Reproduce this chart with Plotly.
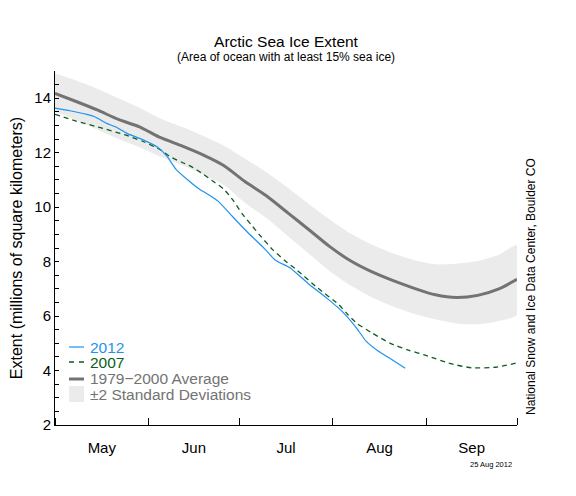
import pandas as pd
import plotly.graph_objects as go

# day offsets are counted from 1 May 2012
start = pd.Timestamp("2012-05-01")

avg_days = [0, 7, 14, 21, 28, 35, 42, 49, 56, 63, 70, 77, 84, 91, 98, 105,
            112, 119, 126, 133, 140, 147, 153]
avg_ext = [14.18, 13.88, 13.57, 13.22, 12.95, 12.55, 12.25, 11.92, 11.52, 10.93,
           10.42, 9.80, 9.18, 8.55, 8.02, 7.62, 7.30, 7.02, 6.78, 6.68, 6.76,
           7.00, 7.35]
sd_upper = [14.92, 14.65, 14.35, 14.00, 13.65, 13.25, 12.95, 12.62, 12.25, 11.78,
            11.28, 10.72, 10.12, 9.55, 9.02, 8.62, 8.30, 8.05, 7.90, 7.92, 8.02,
            8.25, 8.60]
sd_lower = [13.50, 13.20, 12.85, 12.50, 12.20, 11.85, 11.55, 11.20, 10.80, 10.15,
            9.60, 8.95, 8.30, 7.65, 7.12, 6.68, 6.35, 6.08, 5.88, 5.72, 5.70,
            5.82, 6.05]

days_2012 = [0, 5, 10, 13, 17, 20, 24, 29, 34, 37, 40, 44, 48, 51, 54, 59, 64,
             69, 73, 78, 84, 90, 95, 100, 103, 107, 112, 116]
ext_2012 = [13.64, 13.54, 13.42, 13.33, 13.08, 12.95, 12.70, 12.48, 12.20, 11.88,
            11.40, 11.00, 10.65, 10.45, 10.22, 9.63, 9.05, 8.52, 8.05, 7.76, 7.18,
            6.66, 6.18, 5.54, 5.08, 4.72, 4.37, 4.08]

days_2007 = [0, 7, 15, 23, 29, 35, 38, 42, 45, 49, 52, 56, 59, 62, 65, 68, 72,
             76, 80, 87, 94, 97, 100, 105, 111, 117, 123, 131, 138, 146, 153]
ext_2007 = [13.41, 13.16, 12.92, 12.66, 12.42, 12.10, 11.86, 11.65, 11.50, 11.22,
            10.98, 10.65, 10.25, 9.75, 9.35, 8.95, 8.45, 8.05, 7.70, 7.03, 6.42,
            6.05, 5.73, 5.38, 5.00, 4.75, 4.55, 4.25, 4.10, 4.12, 4.28]

legend_labels = ["2012", "2007", "1979\u22122000 Average", "\u00b12 Standard Deviations"]

BLUE = "#1e93ee"
GREEN = "#0d5c22"
GRAY = "#737373"
BAND = "#ebebeb"
FONT = "Liberation Sans, Arial, Helvetica, sans-serif"

# the page puts the figure 8px in from the top-left corner
W, H = 568, 488


def to_dates(days):
    return start + pd.to_timedelta(days, unit="D")


# plot area in page pixels: x 55..517, y 71..425
def px(x):
    return (x - 55) / 462


def py(y):
    return (425 - y) / 354


band_x = list(to_dates(avg_days)) + list(to_dates(avg_days))[::-1]
band_y = sd_upper + sd_lower[::-1]

fig = go.Figure()
fig.add_trace(go.Scatter(x=band_x, y=band_y, fill="toself", fillcolor=BAND,
                         line=dict(width=0, shape="spline", smoothing=0.6),
                         mode="lines", hoverinfo="skip"))
fig.add_trace(go.Scatter(x=to_dates(avg_days), y=avg_ext, mode="lines",
                         line=dict(color=GRAY, width=3, shape="spline", smoothing=0.6)))
fig.add_trace(go.Scatter(x=to_dates(days_2007), y=ext_2007, mode="lines",
                         line=dict(color=GREEN, width=1.3, dash="5px,4px",
                                   shape="spline", smoothing=0.5)))
fig.add_trace(go.Scatter(x=to_dates(days_2012), y=ext_2012, mode="lines",
                         line=dict(color=BLUE, width=1.2, shape="spline", smoothing=0.5)))

# hand-made legend, the entries sit tighter than plotly's own legend allows
shapes = [
    dict(type="line", x0=px(69), x1=px(84), y0=py(347), y1=py(347),
         line=dict(color=BLUE, width=1.2)),
    dict(type="line", x0=px(69), x1=px(84), y0=py(362), y1=py(362),
         line=dict(color=GREEN, width=1.3, dash="5px,5px")),
    dict(type="line", x0=px(69), x1=px(84), y0=py(379), y1=py(379),
         line=dict(color=GRAY, width=3)),
    dict(type="rect", x0=px(69), x1=px(84), y0=py(402), y1=py(386),
         fillcolor=BAND, line=dict(width=0)),
]
for s in shapes:
    s.update(xref="paper", yref="paper")

annotations = []
for label, color, y in zip(legend_labels, [BLUE, GREEN, GRAY, GRAY], [347, 362.5, 378.5, 394]):
    annotations.append(dict(text=label, x=px(89), y=py(y), xref="paper", yref="paper",
                            xanchor="left", yanchor="middle", showarrow=False,
                            borderpad=0, font=dict(size=15.5, color=color)))

annotations += [
    dict(text="(Area of ocean with at least 15% sea ice)", x=px(286), y=py(57),
         xref="paper", yref="paper", xanchor="center", yanchor="middle",
         showarrow=False, borderpad=0, font=dict(size=12, color="black")),
    dict(text="National Snow and Ice Data Center, Boulder CO", x=px(531), y=py(287),
         xref="paper", yref="paper", xanchor="center", yanchor="middle",
         textangle=-90, showarrow=False, font=dict(size=12, color="black")),
    dict(text="25 Aug 2012", x=px(514), y=py(464), xref="paper", yref="paper",
         xanchor="right", yanchor="middle", showarrow=False,
         font=dict(size=7.5, color="black")),
]

fig.update_layout(
    width=W, height=H,
    margin=dict(l=47, r=W - 47 - 462, t=63, b=H - 63 - 354),
    paper_bgcolor="white", plot_bgcolor="white",
    font=dict(family=FONT, color="black"),
    showlegend=False,
    title=dict(text="Arctic Sea Ice Extent", x=(286 - 8) / W, xanchor="center",
               y=1 - (42 - 8) / H, yanchor="middle", yref="container",
               font=dict(size=15.5, color="black")),
    shapes=shapes,
    annotations=annotations,
)
fig.update_xaxes(
    type="date", range=["2012-05-01", "2012-10-01"],
    tick0="2012-05-01", dtick="M1", tickformat="%b", ticklabelmode="period",
    ticks="inside", ticklen=7, tickcolor="black",
    showline=True, linecolor="black", linewidth=1,
    showgrid=False, zeroline=False, automargin=False,
    tickfont=dict(size=15), ticklabelstandoff=9,
)
fig.update_yaxes(
    range=[2, 15], tick0=2, dtick=2,
    ticks="inside", ticklen=4, tickcolor="black",
    minor=dict(dtick=0.5, ticks="inside", ticklen=4, tickcolor="black"),
    showline=True, linecolor="black", linewidth=1,
    showgrid=False, zeroline=False, automargin=False,
    tickfont=dict(size=15),
    title=dict(text="Extent (millions of square kilometers)", font=dict(size=16), standoff=12),
)

fig.write_html("out.html")
